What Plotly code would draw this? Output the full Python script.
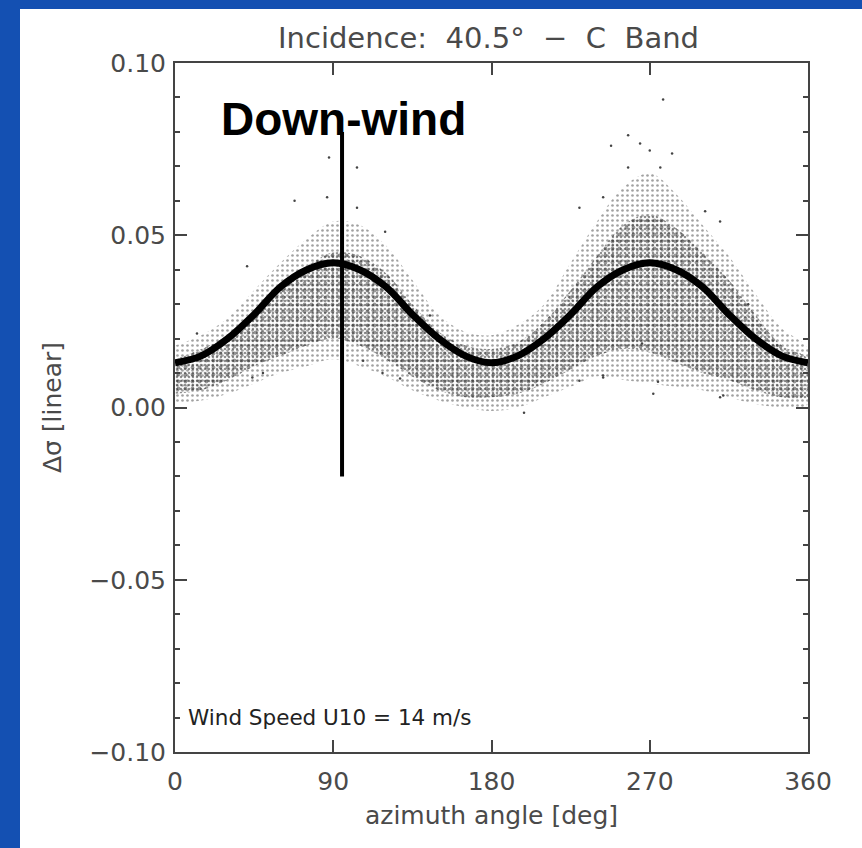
import plotly.graph_objects as go

# Model curve of the azimuthal modulation (deg, linear)
curve_angle = [0, 15, 30, 45, 60, 75, 90, 105, 120, 135, 150, 165, 180,
               195, 210, 225, 240, 255, 270, 285, 300, 315, 330, 345, 360]
curve_value = [0.013, 0.015, 0.020, 0.027, 0.035, 0.040, 0.042, 0.040, 0.035,
               0.027, 0.020, 0.015, 0.013, 0.015, 0.020, 0.027, 0.035, 0.040,
               0.042, 0.040, 0.035, 0.027, 0.020, 0.015, 0.013]

# Envelopes of the measured scatter cloud
env_angle = curve_angle
outer_lo = [0.001, 0.002, 0.004, 0.007, 0.010, 0.012, 0.014, 0.012, 0.009,
            0.005, 0.002, 0.000, -0.001, 0.000, 0.003, 0.006, 0.009, 0.008,
            0.007, 0.006, 0.005, 0.003, 0.001, 0.000, 0.001]
core_lo = [0.004, 0.005, 0.008, 0.012, 0.015, 0.018, 0.020, 0.018, 0.014,
           0.009, 0.005, 0.003, 0.003, 0.004, 0.007, 0.011, 0.015, 0.017,
           0.016, 0.013, 0.010, 0.008, 0.005, 0.003, 0.003]
core_hi = [0.014, 0.017, 0.021, 0.028, 0.035, 0.041, 0.045, 0.044, 0.039,
           0.030, 0.022, 0.018, 0.017, 0.019, 0.025, 0.034, 0.044, 0.053,
           0.056, 0.052, 0.045, 0.037, 0.027, 0.018, 0.014]
outer_hi = [0.018, 0.021, 0.026, 0.034, 0.042, 0.049, 0.054, 0.053, 0.047,
            0.037, 0.027, 0.022, 0.021, 0.024, 0.030, 0.042, 0.054, 0.064,
            0.068, 0.062, 0.053, 0.044, 0.033, 0.023, 0.017]

# Isolated samples outside the dense cloud
out_angle = [87.6, 103.5, 68.0, 41.0, 50.0, 44.0, 12.5, 107.0, 118.0, 119.5,
             86.5, 103.5, 198.5, 230.0, 243.5, 128.0, 145.0, 230.0, 243.5,
             257.7, 264.5, 248.0, 282.7, 270.0, 276.0, 257.7, 243.5, 274.7,
             272.0, 310.0, 311.8, 326.0, 310.0, 301.5, 265.6, 342.5, 277.6]
out_value = [0.0726, 0.0697, 0.060, 0.041, 0.010, 0.0087, 0.0215, 0.0136,
             0.010, 0.051, 0.061, 0.058, -0.0015, 0.058, 0.061, 0.0084, 0.0267,
             0.0078, 0.0087, 0.079, 0.0766, 0.076, 0.0737, 0.0746, 0.0697,
             0.0697, 0.0093, 0.0075, 0.004, 0.003, 0.0035, 0.030, 0.054, 0.057,
             0.0186, 0.018, 0.0894]

# Down-wind marker
downwind_x = [95, 95]
downwind_y = [-0.02, 0.08]

x_ticks = [0, 90, 180, 270, 360]
y_ticks = [-0.10, -0.05, 0.00, 0.05, 0.10]
y_ticklabels = ["\u22120.10", "\u22120.05", "0.00", "0.05", "0.10"]

W, H = 862, 848
L, R, T, B = 175, 54, 63, 96
pw, ph = W - L - R, H - T - B

def px_x(p):
    return (p - L) / pw

def px_y(p):
    return (H - B - p) / ph

fig = go.Figure()

def band(lo, hi, size, solidity, color):
    fig.add_trace(go.Scatter(
        x=list(env_angle) + list(env_angle)[::-1],
        y=list(hi) + list(lo)[::-1],
        mode="lines", line=dict(width=0, shape="spline"),
        fill="toself", fillcolor="rgba(0,0,0,0)",
        fillpattern=dict(shape=".", size=size, solidity=solidity,
                         fgcolor=color, bgcolor="rgba(0,0,0,0)"),
        hoverinfo="skip", showlegend=False))

# sparse halo, then two offset dot grids for the dense core
band(outer_lo, outer_hi, 5, 0.22, "#444444")
band(core_lo, core_hi, 4, 0.32, "#222222")
band(core_lo, core_hi, 7, 0.24, "#333333")

fig.add_trace(go.Scatter(
    x=out_angle, y=out_value, mode="markers",
    marker=dict(size=2.5, color="#444444"),
    hoverinfo="skip", showlegend=False))

fig.add_trace(go.Scatter(
    x=curve_angle, y=curve_value, mode="lines",
    line=dict(color="black", width=7, shape="spline", smoothing=1.0),
    hoverinfo="skip", showlegend=False))

fig.add_trace(go.Scatter(
    x=downwind_x, y=downwind_y, mode="lines",
    line=dict(color="black", width=4),
    hoverinfo="skip", showlegend=False))

axis_font = dict(family="DejaVu Sans", size=25, color="#4a4a4a")

fig.update_layout(
    width=W, height=H,
    margin=dict(l=L, r=R, t=T, b=B),
    paper_bgcolor="#1450b2",
    plot_bgcolor="white",
    showlegend=False,
    font=axis_font,
    xaxis=dict(range=[0, 360], tickvals=x_ticks, ticks="inside", ticklen=12,
               tickwidth=2, tickcolor="#444444", showline=True, linewidth=2,
               linecolor="#444444", mirror="ticks", showgrid=False,
               zeroline=False, tickfont=axis_font, ticklabelstandoff=6,
               title=dict(text="azimuth angle [deg]", font=axis_font, standoff=11)),
    yaxis=dict(range=[-0.10, 0.10], tickvals=y_ticks, ticktext=y_ticklabels,
               ticks="inside", ticklen=12, tickwidth=2, tickcolor="#444444",
               showline=True, linewidth=2, linecolor="#444444",
               mirror="ticks", showgrid=False, zeroline=False,
               tickfont=axis_font, ticklabelstandoff=2,
               minor=dict(dtick=0.01, ticks="inside", ticklen=5,
                          tickwidth=2, tickcolor="#444444", showgrid=False),
               title=dict(text="\u0394\u03c3 [linear]", font=axis_font,
                          standoff=21)),
    shapes=[dict(type="rect", xref="paper", yref="paper", layer="below",
                 x0=px_x(20), x1=px_x(W + 5), y0=px_y(H + 5), y1=px_y(9),
                 fillcolor="white", line=dict(width=0))],
    annotations=[
        dict(text="Incidence:\u00a0\u00a040.5\u00b0\u00a0\u00a0\u2212\u00a0\u00a0C\u00a0\u00a0Band",
             xref="paper", yref="paper", x=px_x(488), y=px_y(38),
             xanchor="center", yanchor="middle", showarrow=False,
             font=dict(family="DejaVu Sans", size=29, color="#4a4a4a")),
        dict(text="<b>Down-wind</b>", xref="x", yref="paper", x=96,
             y=px_y(119), xanchor="center", yanchor="middle",
             showarrow=False,
             font=dict(family="Liberation Sans", size=46, color="black")),
        dict(text="Wind\u00a0Speed\u00a0U10\u00a0=\u00a014\u00a0m/s",
             xref="paper", yref="paper",
             x=px_x(186), y=px_y(717), xanchor="left", yanchor="middle",
             showarrow=False,
             font=dict(family="DejaVu Sans", size=21.5, color="#222222")),
    ],
)

fig.write_html("out.html")
